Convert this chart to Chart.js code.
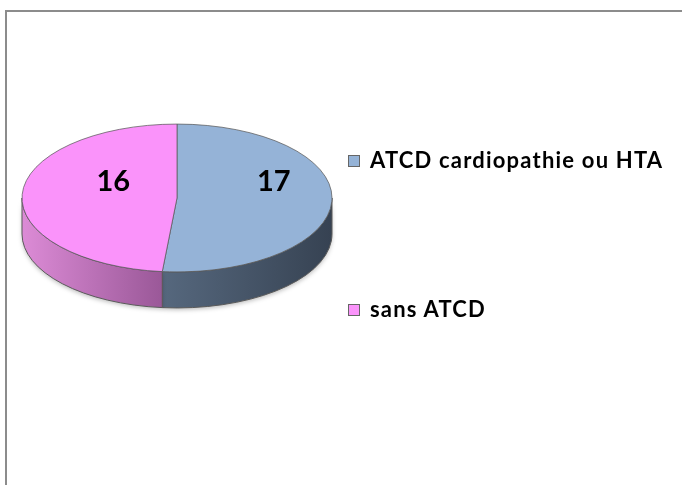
<!DOCTYPE html>
<html>
<head>
<meta charset="utf-8">
<script src="https://cdn.jsdelivr.net/npm/chart.js@4.4.0/dist/chart.umd.min.js"></script>
<style>
  html, body { margin: 0; padding: 0; background: #fff; }
  body { width: 682px; height: 485px; position: relative; overflow: hidden; font-family: Lato, "Open Sans", sans-serif; }
  #frame { position: absolute; left: 5px; top: 10px; width: 800px; height: 600px; border-top: 2px solid #8c8c8c; border-left: 2px solid #8c8c8c; }
  #pie { position: absolute; left: 0; top: 0; }
  .leg { position: absolute; left: 348px; font-weight: bold; font-size: 22px; line-height: 22px; letter-spacing: 1.2px; color: #000; white-space: nowrap; }
  .leg span.box { position: absolute; left: 0; width: 10px; height: 10px; border: 1px solid #666; }
  .leg span.txt { position: absolute; left: 22px; }
</style>
</head>
<body>
<div id="frame"></div>
<canvas id="pie" width="682" height="485"></canvas>
<div id="legend"></div>
<script>
const categories = ['ATCD cardiopathie ou HTA', 'sans ATCD'];
const counts = [17, 16];
const topColors = ['#95b3d7', '#fa93fa'];
const wallColors = [['#56687e', '#364252'], ['#dc8bd6', '#9a5898']];
const legendTops = [149, 298];

// flattening of the pie disc and height of its rim
const tilt = 0.477;
const depth = 36;

const pie3d = {
  id: 'pie3d',
  beforeDatasetsDraw(chart) {
    const ctx = chart.ctx;
    const arcs = chart.getDatasetMeta(0).data;
    const cx = arcs[0].x, cy = arcs[0].y;
    const rx = arcs[0].outerRadius, ry = rx * tilt;

    // rim: only the front half (0..PI) is visible
    arcs.forEach((arc, i) => {
      const a1 = Math.max(arc.startAngle, 0);
      const a2 = Math.min(arc.endAngle, Math.PI);
      if (a2 <= a1) return;
      const x1 = cx + rx * Math.cos(a2), x2 = cx + rx * Math.cos(a1);
      const g = ctx.createLinearGradient(Math.min(x1, x2), 0, Math.max(x1, x2), 0);
      g.addColorStop(0, wallColors[i][0]);
      g.addColorStop(1, wallColors[i][1]);
      ctx.save();
      ctx.beginPath();
      ctx.ellipse(cx, cy, rx, ry, 0, a1, a2);
      ctx.ellipse(cx, cy + depth, rx, ry, 0, a2, a1, true);
      ctx.closePath();
      ctx.shadowColor = 'rgba(0,0,0,0.25)';
      ctx.shadowBlur = 4;
      ctx.shadowOffsetY = 2;
      ctx.fillStyle = g;
      ctx.fill();
      ctx.shadowColor = 'transparent';
      ctx.strokeStyle = '#5a5a5a';
      ctx.lineWidth = 1;
      ctx.stroke();
      ctx.restore();
    });

    // squash the top face into an ellipse
    ctx.save();
    ctx.translate(cx, cy);
    ctx.scale(1, tilt);
    ctx.translate(-cx, -cy);
  },
  afterDatasetsDraw(chart) {
    chart.ctx.restore();
  },
  afterDraw(chart, args, opts) {
    const ctx = chart.ctx;
    const arcs = chart.getDatasetMeta(0).data;
    const cx = arcs[0].x, cy = arcs[0].y;
    const r = arcs[0].outerRadius;
    ctx.save();
    ctx.font = 'bold 29px Lato, sans-serif';
    ctx.fillStyle = '#000';
    ctx.textAlign = 'center';
    ctx.textBaseline = 'middle';
    arcs.forEach((arc, i) => {
      const p = opts.spots[i];
      const a = p.angle * Math.PI / 180;
      const x = cx + Math.cos(a) * r * p.dist;
      const y = cy + Math.sin(a) * r * p.dist * tilt;
      ctx.fillText(String(chart.data.datasets[0].data[i]), x, y);
    });
    ctx.restore();
  }
};

const chart = new Chart(document.getElementById('pie').getContext('2d'), {
  type: 'pie',
  data: {
    labels: categories,
    datasets: [{
      data: counts,
      backgroundColor: topColors,
      borderColor: '#5a5a5a',
      borderWidth: 1,
      radius: 155,
      clip: false
    }]
  },
  options: {
    responsive: false,
    animation: false,
    events: [],
    layout: { padding: { left: 22, right: 350, top: 43, bottom: 132 } },
    plugins: {
      legend: { display: false },
      tooltip: { enabled: false },
      pie3d: {
        spots: [{ angle: -19, dist: 0.66 }, { angle: 209, dist: 0.47 }]
      }
    }
  },
  plugins: [pie3d]
});

// legend built from the chart's own labels
const legendDiv = document.getElementById('legend');
chart.data.labels.forEach((label, i) => {
  const item = document.createElement('div');
  item.className = 'leg';
  item.style.top = legendTops[i] + 'px';
  item.innerHTML = '<span class="box" style="top:6px;background:' + topColors[i] + '"></span>' +
    '<span class="txt"></span>';
  item.querySelector('.txt').textContent = label;
  legendDiv.appendChild(item);
});
</script>
</body>
</html>
